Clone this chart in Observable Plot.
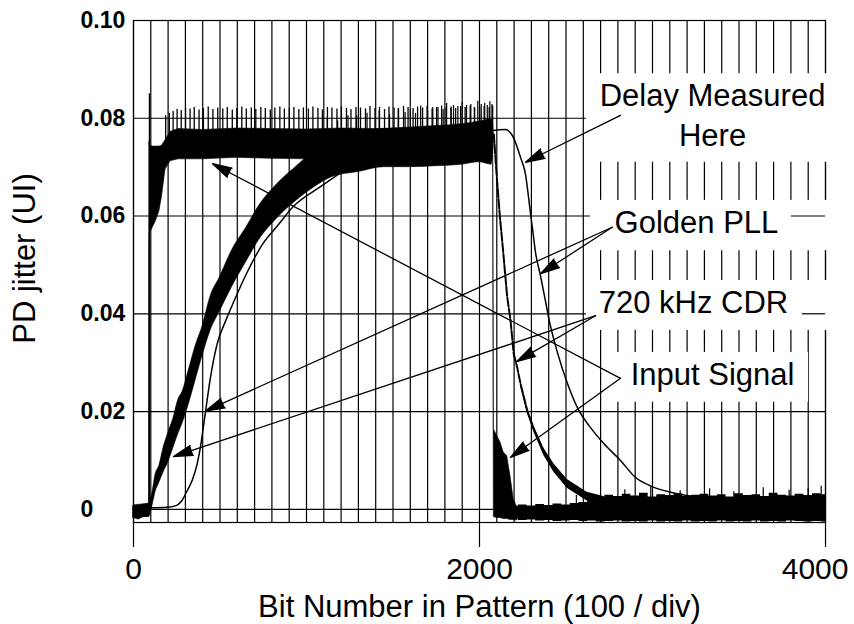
<!DOCTYPE html>
<html><head><meta charset="utf-8">
<script src="https://cdn.jsdelivr.net/npm/d3@7"></script>
<script src="https://cdn.jsdelivr.net/npm/@observablehq/plot@0.6"></script>
<style>
html,body{margin:0;padding:0;background:#fff;}
#chart{width:854px;height:624px;}
</style></head><body><div id="chart"></div>
<script>
// ---- axis ticks & labels ----
const xTicks = [0, 2000, 4000];
const xTickLabels = ["0", "2000", "4000"];
const yTicks = [0, 0.02, 0.04, 0.06, 0.08, 0.10];
const yTickLabels = ["0", "0.02", "0.04", "0.06", "0.08", "0.10"];
const xTitle = "Bit Number in Pattern (100 / div)";
const yTitle = "PD jitter (UI)";

// ---- Input Signal (noisy band: low / high envelope) ----
const inX  = [0,30,60,90,92,94,110,130,150,165,185,214,260,400,600,800,1000,1200,1400,1600,1800,2000,2079,2083,2102,2121,2140,2160,2179,2198,2218];
const inLo = [-0.0018,-0.0021,-0.0016,-0.0015,0.0556,0.0565,0.0575,0.059,0.061,0.064,0.0695,0.0712,0.0716,0.0716,0.0719,0.0717,0.0716,0.0718,0.0717,0.0716,0.0718,0.0717,0.0716,-0.0016,-0.0018,-0.0018,-0.0020,-0.0020,-0.0022,-0.0022,-0.0023];
const inHi = [0.0005,0.0008,0.0004,0.0009,0.0752,0.0745,0.0742,0.0742,0.0742,0.0744,0.0755,0.0772,0.0778,0.0776,0.0779,0.0778,0.0777,0.0779,0.0778,0.0779,0.0779,0.0778,0.0778,0.0164,0.015,0.0137,0.0116,0.0109,0.0068,0.002,0.0004];
// Input Signal spikes
const inSpikeX  = [92,186,207,229,252,276,301,327,351,379,404,432,459,487,516,542,571,597,626,652,681,707,736,762,791,817,846,872,901,927,956,982,1011,1037,1066,1092,1121,1147,1176,1202,1231,1257,1286,1312,1341,1367,1396,1422,1451,1477,1506,1532,1561,1587,1616,1642,1671,1697,1726,1752,1781,1807,1836,1862,1891,1917,1946,1972,2001,2027,2056,2076];
const inSpikeLo = [0,0.0745,0.0745,0.0745,0.0745,0.0745,0.0745,0.0745,0.0745,0.0745,0.0745,0.0745,0.0745,0.0745,0.0745,0.0745,0.0745,0.0745,0.0745,0.0745,0.0745,0.0745,0.0745,0.0745,0.0745,0.0745,0.0745,0.0745,0.0745,0.0745,0.0745,0.0745,0.0745,0.0745,0.0745,0.0745,0.0745,0.0745,0.0745,0.0745,0.0745,0.0745,0.0745,0.0745,0.0745,0.0745,0.0745,0.0745,0.0745,0.0745,0.0745,0.0745,0.0745,0.0745,0.0745,0.0745,0.0745,0.0745,0.0745,0.0745,0.0745,0.0745,0.0745,0.0745,0.0745,0.0745,0.0745,0.0745,0.0745,0.0745,0.0745,0.0745];
const inSpikeHi = [0.085,0.0805,0.0810,0.0814,0.0818,0.0816,0.0821,0.0819,0.0822,0.0817,0.0820,0.0823,0.0818,0.0821,0.0819,0.0822,0.0817,0.0820,0.0823,0.0819,0.0821,0.0818,0.0822,0.0820,0.0817,0.0821,0.0823,0.0819,0.0820,0.0822,0.0818,0.0821,0.0819,0.0823,0.0820,0.0817,0.0822,0.0821,0.0819,0.0823,0.0820,0.0818,0.0822,0.0821,0.0819,0.0824,0.0820,0.0822,0.0818,0.0823,0.0821,0.0819,0.0824,0.0822,0.0820,0.0823,0.0821,0.0824,0.0819,0.0822,0.0825,0.0821,0.0823,0.0820,0.0824,0.0822,0.0825,0.0821,0.0823,0.0824,0.0822,0.0825];

// ---- 720 kHz CDR (noisy band rising, then falling trace) ----
const cdrX  = [0,50,90,110,127,150,173,200,230,260,283,320,360,400,445,500,570,650,734,830,954,1050,1150,1300,1450,1600,1750,1900,2000,2070,2081];
const cdrLo = [-0.0017,-0.0015,-0.0016,0.0008,0.0035,0.0055,0.0075,0.0095,0.0125,0.0155,0.0175,0.0215,0.0265,0.0315,0.0365,0.0405,0.0455,0.0505,0.0555,0.0595,0.0635,0.0660,0.0680,0.0690,0.0700,0.0700,0.0702,0.0705,0.0710,0.0705,0.0740];
const cdrHi = [0.0008,0.0010,0.0012,0.0035,0.0070,0.0090,0.0125,0.0155,0.0185,0.0225,0.0240,0.0285,0.0335,0.0375,0.0435,0.0475,0.0530,0.0575,0.0625,0.0665,0.0705,0.0735,0.0760,0.0772,0.0778,0.0781,0.0784,0.0788,0.0793,0.0798,0.0780];
const cdrSpikeX   = [1120,1180,1240,1290,1350,1420,1480,1530,1570,1600,1630,1660,1700,1730,1760,1790,1810,1835,1850,1875,1900,1925,1950,1970,1990,2010,2030,2045,2060,2072];
const cdrSpikeTop = [0.0800,0.0795,0.0805,0.0805,0.0810,0.0815,0.0808,0.0820,0.0812,0.0818,0.0810,0.0825,0.0815,0.0822,0.0822,0.0818,0.0830,0.0820,0.0826,0.0824,0.0832,0.0826,0.0828,0.0822,0.0835,0.0828,0.0830,0.0826,0.0834,0.0828];
const cdrFallX = [2081,2083,2100,2118,2131,2160,2179,2198,2218,2237,2276,2314,2372,2430,2507,2622,2738];
const cdrFallY = [0.0765,0.0767,0.0680,0.0598,0.0550,0.0435,0.0387,0.0318,0.0290,0.0257,0.0202,0.0165,0.0118,0.0085,0.0052,0.0026,0.0013];
// thickened noisy part of the CDR tail
const cdrTailX  = [2237,2276,2314,2372,2430,2507,2622,2738];
const cdrTailLo = [0.0252,0.0197,0.0158,0.0110,0.0076,0.0043,0.0017,0.0005];
const cdrTailHi = [0.0260,0.0206,0.0170,0.0125,0.0093,0.0061,0.0035,0.0024];

// ---- Golden PLL (thin trace) ----
const goldenX = [0,100,200,250,280,310,339,368,387,401,416,445,484,532,580,657,751,832,925,1081,1254,1543,1832,2000,2081,2150,2197,2237,2266,2283,2295,2306,2324,2353,2382,2399,2451,2509,2566,2642,2717,2815,2902,2988,3104,3220,3393,3600,3800,4000];
const goldenY = [0.0002,0.0003,0.0004,0.0008,0.0018,0.0038,0.0059,0.0093,0.0127,0.0161,0.0199,0.027,0.0339,0.0385,0.0425,0.0485,0.0545,0.058,0.062,0.066,0.07,0.073,0.075,0.0765,0.0775,0.0777,0.076,0.072,0.0685,0.064,0.0605,0.0575,0.0525,0.0477,0.0425,0.0393,0.032,0.0257,0.0208,0.0167,0.0135,0.01,0.0065,0.0048,0.0035,0.0027,0.0022,0.0019,0.0017,0.0016];

// ---- noise floor after the drop ----
const floorX  = [2200,2250,2300,2350,2400,2450,2500,2550,2600,2650,2700,2750,2800,2850,2900,2950,3000,3050,3100,3150,3200,3250,3300,3350,3400,3450,3500,3550,3600,3650,3700,3750,3800,3850,3900,3950,4000];
const floorLo = [-0.0021,-0.0023,-0.0022,-0.0024,-0.0023,-0.0025,-0.0024,-0.0023,-0.0025,-0.0024,-0.0026,-0.0025,-0.0024,-0.0026,-0.0025,-0.0026,-0.0024,-0.0026,-0.0025,-0.0026,-0.0024,-0.0026,-0.0025,-0.0026,-0.0024,-0.0026,-0.0025,-0.0026,-0.0024,-0.0026,-0.0025,-0.0026,-0.0024,-0.0025,-0.0026,-0.0025,-0.0026];
const floorHi = [0.0006,0.0009,0.0007,0.0010,0.0008,0.0011,0.0009,0.0012,0.0014,0.0018,0.0024,0.0029,0.0026,0.0031,0.0027,0.0033,0.0025,0.0030,0.0028,0.0032,0.0026,0.0029,0.0031,0.0027,0.0030,0.0025,0.0032,0.0028,0.0030,0.0026,0.0033,0.0029,0.0027,0.0031,0.0028,0.0032,0.0030];
const floorSpikeX   = [2560,2840,2990,3160,3330,3470,3640,3790,3900,3975];
const floorSpikeTop = [0.0028,0.0040,0.0046,0.0038,0.0042,0.0036,0.0044,0.0039,0.0043,0.0047];

// ---- annotations ----
const labelText = ["Delay Measured", "Here", "Golden PLL", "720 kHz CDR", "Input Signal"];
const labelX    = [3347, 3347, 3254, 3237, 3347];
const labelY    = [0.0845, 0.0764, 0.0585, 0.0421, 0.0274];
const boxX1 = [2618, 2642, 2618, 2792];
const boxX2 = [4058, 4029, 4029, 3902];
const boxY1 = [0.0710, 0.0529, 0.0366, 0.0219];
const boxY2 = [0.0891, 0.0632, 0.0468, 0.0321];
const patchY  = [0.06, 0.04];
const patchX1 = [3803, 3867];
const arrowX1 = [2815, 2767, 2767, 2671, 2671, 2815, 2815];
const arrowY1 = [0.0806, 0.0577, 0.0577, 0.0396, 0.0396, 0.0268, 0.0268];
const arrowX2 = [2266, 2353, 416, 2214, 231, 2179, 457];
const arrowY2 = [0.0710, 0.0482, 0.0201, 0.0302, 0.0108, 0.0106, 0.0707];
// axis title positions (data units)
const yTitlePos = {x: -624, y: 0.0513};

// ---- tables built from the arrays ----
const band = (X, L, H) => X.map((x, i) => ({x, lo: L[i], hi: H[i]}));
const inputBand = band(inX, inLo, inHi);
const cdrBand = band(cdrX, cdrLo, cdrHi);
const cdrTail = band(cdrTailX, cdrTailLo, cdrTailHi);
const floorBand = band(floorX, floorLo, floorHi);
const cdrFall = cdrFallX.map((x, i) => ({x, y: cdrFallY[i]}));
const inSpikes = inSpikeX.map((x, i) => ({x, lo: inSpikeLo[i], hi: inSpikeHi[i]}));
const cdrSpikes = cdrSpikeX.map((x, i) => ({x, lo: 0.077, hi: cdrSpikeTop[i]}));
const floorSpikes = floorSpikeX.map((x, i) => ({x, lo: 0, hi: floorSpikeTop[i]}));
const golden = goldenX.map((x, i) => ({x, y: goldenY[i]}));
const labels = labelText.map((t, i) => ({t, x: labelX[i], y: labelY[i]}));
const boxes = boxX1.map((x1, i) => ({x1, x2: boxX2[i], y1: boxY1[i], y2: boxY2[i]}));
const patches = patchY.map((y, i) => ({y, x1: patchX1[i], x2: 4000}));
const arrows = arrowX1.map((x1, i) => ({x1, y1: arrowY1[i], x2: arrowX2[i], y2: arrowY2[i]}));
const gridX = d3.range(0, 4001, 100);

const FONT = "'Liberation Sans', Arial, Helvetica, sans-serif";
const chart = Plot.plot({
  width: 854, height: 624,
  marginLeft: 133, marginRight: 29, marginTop: 20, marginBottom: 102,
  x: {domain: [0, 4000]},
  y: {domain: [-0.0027, 0.1]},
  style: {fontFamily: FONT, background: "white", color: "black", overflow: "visible"},
  marks: [
    Plot.ruleX(gridX, {stroke: "black", strokeWidth: 1.2}),
    Plot.ruleY(yTicks, {stroke: "black", strokeWidth: 1.2}),
    Plot.frame({stroke: "black", strokeWidth: 1.2}),
    Plot.areaY(floorBand, {x: "x", y1: "lo", y2: "hi", fill: "black", curve: "step"}),
    Plot.ruleX(floorSpikes, {x: "x", y1: "lo", y2: "hi", stroke: "black", strokeWidth: 1.2}),
    Plot.areaY(inputBand, {x: "x", y1: "lo", y2: "hi", fill: "black", stroke: "black", strokeWidth: 0.6}),
    Plot.ruleX(inSpikes, {x: "x", y1: "lo", y2: "hi", stroke: "black", strokeWidth: 1.3}),
    Plot.areaY(cdrBand, {x: "x", y1: "lo", y2: "hi", fill: "black", stroke: "black", strokeWidth: 0.6, curve: "monotone-x"}),
    Plot.ruleX(cdrSpikes, {x: "x", y1: "lo", y2: "hi", stroke: "black", strokeWidth: 1.2}),
    Plot.line(cdrFall, {x: "x", y: "y", stroke: "black", strokeWidth: 2, strokeDasharray: "9,2"}),
    Plot.areaY(cdrTail, {x: "x", y1: "lo", y2: "hi", fill: "black"}),
    Plot.line(golden, {x: "x", y: "y", stroke: "black", strokeWidth: 1.5, curve: "monotone-x"}),
    Plot.rect(boxes, {x1: "x1", x2: "x2", y1: "y1", y2: "y2", fill: "white"}),
    Plot.ruleY(patches, {y: "y", x1: "x1", x2: "x2", stroke: "black", strokeWidth: 1.2}),
    Plot.arrow(arrows, {x1: "x1", y1: "y1", x2: "x2", y2: "y2", stroke: "black", fill: "black", strokeWidth: 1.3, headLength: 23, headAngle: 30}),
    Plot.text(labels, {x: "x", y: "y", text: "t", fontSize: 31, fill: "black"}),
    Plot.axisX(xTicks, {tickSize: 25, tickFormat: () => "", stroke: "black", strokeWidth: 1.2, label: null}),
    Plot.text(xTicks.slice(0, 2), {x: d => d, text: (d, i) => xTickLabels[i], frameAnchor: "bottom", lineAnchor: "middle", textAnchor: "middle", dy: 47, fontSize: 30, fill: "black"}),
    Plot.text(xTicks.slice(2), {x: d => d, text: () => xTickLabels[2], frameAnchor: "bottom", lineAnchor: "middle", dy: 47, dx: 23, textAnchor: "end", fontSize: 30, fill: "black"}),
    Plot.axisY(yTicks, {tickSize: 0, tickPadding: 0, textAnchor: "start", dx: -53, fontSize: 23, fontWeight: "bold", tickFormat: d => yTickLabels[yTicks.indexOf(d)], label: null}),
    Plot.text([xTitle], {frameAnchor: "bottom", lineAnchor: "middle", textAnchor: "middle", dy: 85, fontSize: 31, fill: "black"}),
    Plot.text([yTitle], {x: () => yTitlePos.x, y: () => yTitlePos.y, rotate: -90, lineAnchor: "middle", textAnchor: "middle", fontSize: 31, fill: "black"})
  ]
});
document.getElementById("chart").appendChild(chart);
</script></body></html>
